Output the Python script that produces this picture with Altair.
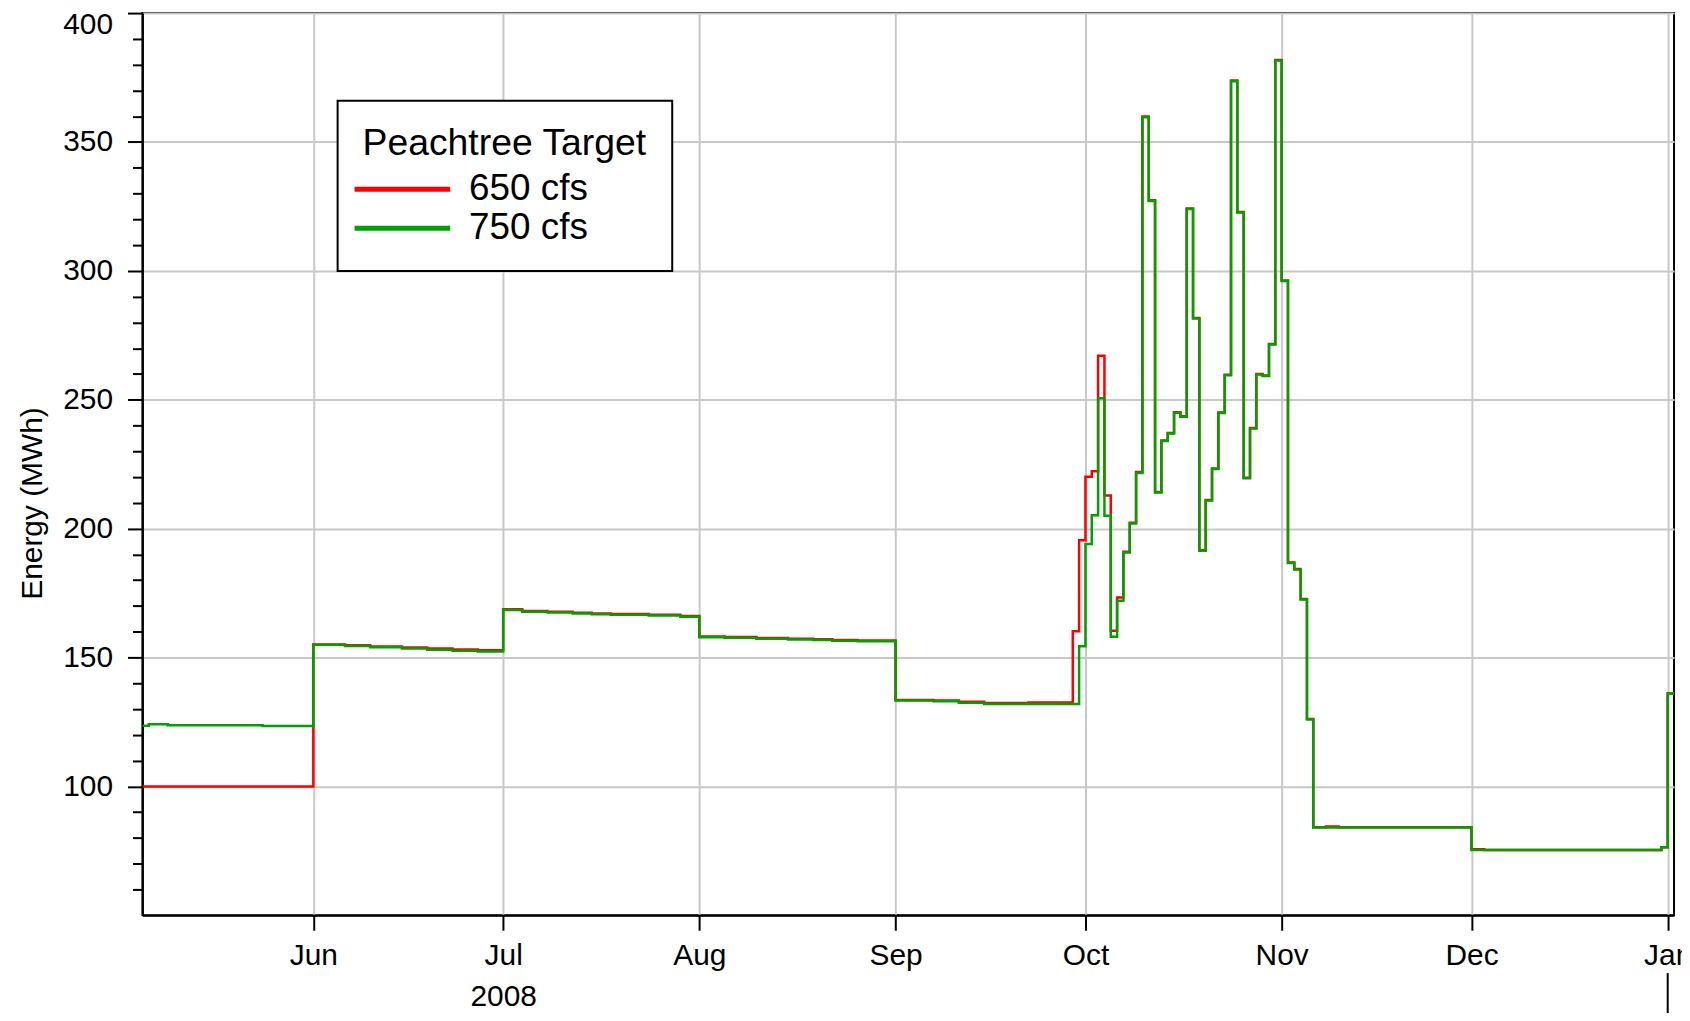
import altair as alt
import pandas as pd

# ---- data (step changes: date -> energy MWh) ----
series_names = ["650 cfs", "750 cfs"]

dates_650 = [
    "2008-05-05", "2008-06-01", "2008-06-06", "2008-06-10", "2008-06-15", "2008-06-19",
    "2008-06-23", "2008-06-27", "2008-07-01", "2008-07-04", "2008-07-08", "2008-07-12",
    "2008-07-15", "2008-07-18", "2008-07-24", "2008-07-29", "2008-08-01", "2008-08-05",
    "2008-08-10", "2008-08-15", "2008-08-19", "2008-08-22", "2008-08-26", "2008-09-01",
    "2008-09-07", "2008-09-11", "2008-09-15", "2008-09-22", "2008-09-29", "2008-09-30",
    "2008-10-01", "2008-10-02", "2008-10-03", "2008-10-04", "2008-10-05", "2008-10-06",
    "2008-10-07", "2008-10-08", "2008-10-09", "2008-10-10", "2008-10-11", "2008-10-12",
    "2008-10-13", "2008-10-14", "2008-10-15", "2008-10-16", "2008-10-17", "2008-10-18",
    "2008-10-19", "2008-10-20", "2008-10-21", "2008-10-22", "2008-10-23", "2008-10-24",
    "2008-10-25", "2008-10-26", "2008-10-27", "2008-10-28", "2008-10-29", "2008-10-30",
    "2008-10-31", "2008-11-01", "2008-11-02", "2008-11-03", "2008-11-04", "2008-11-05",
    "2008-11-06", "2008-11-08", "2008-11-10", "2008-12-01", "2008-12-03", "2008-12-31",
    "2009-01-01", "2009-01-02",
]
energy_650 = [
    100.0, 155.1, 154.8, 154.3, 153.9, 153.5,
    153.1, 152.8, 168.7, 168.1, 167.8, 167.4,
    167.1, 166.9, 166.6, 166.1, 158.2, 158.0,
    157.6, 157.3, 157.1, 156.8, 156.6, 133.5,
    133.3, 132.8, 132.4, 132.6, 160.2, 195.5,
    220.1, 222.3, 267.1, 212.9, 160.4, 173.3,
    191.0, 202.3, 222.0, 359.9, 327.4, 214.2,
    234.2, 237.1, 245.2, 243.6, 324.2, 281.7,
    191.6, 211.1, 223.3, 245.1, 259.7, 373.8,
    322.8, 219.7, 239.0, 260.0, 259.4, 271.6,
    381.8, 296.3, 186.9, 184.3, 172.7, 126.2,
    84.2, 84.5, 84.2, 75.6, 75.3, 76.4,
    136.0, 136.0,
]

dates_750 = [
    "2008-05-05", "2008-05-06", "2008-05-09", "2008-05-24", "2008-06-01", "2008-06-06",
    "2008-06-10", "2008-06-15", "2008-06-19", "2008-06-23", "2008-06-27", "2008-07-01",
    "2008-07-04", "2008-07-08", "2008-07-12", "2008-07-15", "2008-07-18", "2008-07-24",
    "2008-07-29", "2008-08-01", "2008-08-05", "2008-08-10", "2008-08-15", "2008-08-19",
    "2008-08-22", "2008-08-26", "2008-09-01", "2008-09-07", "2008-09-11", "2008-09-15",
    "2008-09-30", "2008-10-01", "2008-10-02", "2008-10-03", "2008-10-04", "2008-10-05",
    "2008-10-06", "2008-10-07", "2008-10-08", "2008-10-09", "2008-10-10", "2008-10-11",
    "2008-10-12", "2008-10-13", "2008-10-14", "2008-10-15", "2008-10-16", "2008-10-17",
    "2008-10-18", "2008-10-19", "2008-10-20", "2008-10-21", "2008-10-22", "2008-10-23",
    "2008-10-24", "2008-10-25", "2008-10-26", "2008-10-27", "2008-10-28", "2008-10-29",
    "2008-10-30", "2008-10-31", "2008-11-01", "2008-11-02", "2008-11-03", "2008-11-04",
    "2008-11-05", "2008-11-06", "2008-12-01", "2008-12-31", "2009-01-01", "2009-01-02",
]
energy_750 = [
    123.5, 124.1, 123.7, 123.4, 155.0, 154.5,
    154.0, 153.5, 153.0, 152.6, 152.3, 168.4,
    167.8, 167.5, 167.1, 166.8, 166.6, 166.3,
    165.8, 157.9, 157.7, 157.3, 157.0, 156.8,
    156.5, 156.3, 133.3, 133.0, 132.5, 132.0,
    154.4, 194.0, 205.2, 250.6, 205.0, 158.1,
    172.0, 190.7, 202.0, 221.6, 359.6, 327.1,
    214.0, 234.0, 236.9, 245.0, 243.4, 324.0,
    281.5, 191.4, 210.9, 223.1, 244.9, 259.5,
    373.6, 322.6, 219.5, 238.8, 259.8, 259.2,
    271.4, 381.6, 296.1, 186.7, 184.1, 172.5,
    126.0, 84.1, 75.3, 76.4, 136.0, 136.0,
]

month_ticks = [(2008, 6), (2008, 7), (2008, 8), (2008, 9), (2008, 10), (2008, 11), (2008, 12), (2009, 1)]
year_marks = ["2009-01-01T00:00:00"]

rows = []
for d, v in zip(dates_650, energy_650):
    rows.append({"date": d + "T00:00:00", "energy": v, "series": series_names[0]})
for d, v in zip(dates_750, energy_750):
    rows.append({"date": d + "T00:00:00", "energy": v, "series": series_names[1]})
df = pd.DataFrame(rows)

FONT = "Liberation Sans"

x_enc = alt.X(
    "date:T",
    title=None,
    scale=alt.Scale(domain=[alt.DateTime(year=2008, month=5, date=5),
                            alt.DateTime(year=2009, month=1, date=2)]),
    axis=alt.Axis(
        values=[alt.DateTime(year=y, month=m, date=1) for y, m in month_ticks],
        labelExpr="(month(datum.value) === 6 && year(datum.value) === 2008) ? "
                  "[timeFormat(datum.value, '%b'), timeFormat(datum.value, '%Y')] : "
                  "timeFormat(datum.value, '%b')",
        tickSize=15, tickWidth=2, tickColor="black",
        domainColor="black", domainWidth=2,
        labelFontSize=30, labelFont=FONT, labelColor="black",
        labelPadding=10, labelLineHeight=42, labelOverlap=False,
        grid=True, gridColor="#c8c8c8", gridWidth=2,
    ),
)

y_enc = alt.Y(
    "energy:Q",
    title="Energy (MWh)",
    scale=alt.Scale(domain=[50, 400], nice=False, zero=False),
    axis=alt.Axis(
        values=list(range(60, 401, 10)),
        labelExpr="datum.value % 50 === 0 ? datum.label : ''",
        tickSize={"condition": {"test": "datum.value % 50 === 0", "value": 15}, "value": 10},
        tickWidth=2, tickColor="black",
        domainColor="black", domainWidth=2,
        labelFontSize=30, labelFont=FONT, labelColor="black",
        labelPadding=15, labelOverlap=False,
        labelBaseline={"condition": {"test": "datum.value === 400", "value": "top"}, "value": "middle"},
        labelOffset={"condition": {"test": "datum.value === 400", "value": -3}, "value": 0},
        grid=True, gridColor="#c8c8c8", gridWidth=2,
        gridOpacity={"condition": {"test": "datum.value % 50 === 0", "value": 1}, "value": 0},
        titleFontSize=30, titleFont=FONT, titleFontWeight="normal", titleColor="black",
        titleAngle=270, titleAlign="center", titleBaseline="middle",
        titleX=-110, titleY=492,
    ),
)

lines = alt.Chart(df).mark_line(interpolate="step-after", strokeWidth=2.5, clip=True).encode(
    x=x_enc,
    y=y_enc,
    color=alt.Color(
        "series:N",
        scale=alt.Scale(domain=series_names, range=["#ff0000", "#00a000"]),
        legend=alt.Legend(
            title="Peachtree Target",
            orient="none", legendX=196, legendY=88, direction="vertical",
            symbolType="M-4.8,0H4.8", symbolSize=400, symbolStrokeWidth=5,
            symbolOffset=21.5, labelOffset=48.5, labelLimit=600,
            labelFontSize=37, labelFont=FONT, labelColor="black",
            titleFontSize=37.5, titleFont=FONT, titleFontWeight="normal", titleColor="black",
            titleAnchor="start", titleLimit=800, titlePadding=8, rowPadding=1, padding=25,
            strokeColor="black", fillColor="white",
        ),
    ),
)

year_rule = alt.Chart(pd.DataFrame({"date": year_marks})).mark_rule(
    color="black", strokeWidth=2, clip=False
).encode(x=x_enc, y=alt.value(964), y2=alt.value(1010))

chart = alt.layer(lines, year_rule).properties(
    width=1538, height=906,
    padding={"left": 135, "top": 3, "right": 8, "bottom": 96},
    autosize=alt.AutoSizeParams(type="none"),
).configure(font=FONT).configure_view(
    stroke="black", strokeWidth=2
).configure_legend(strokeWidth=2, cornerRadius=0)

chart.save("out.html", embed_options={"renderer": "svg", "actions": False})
